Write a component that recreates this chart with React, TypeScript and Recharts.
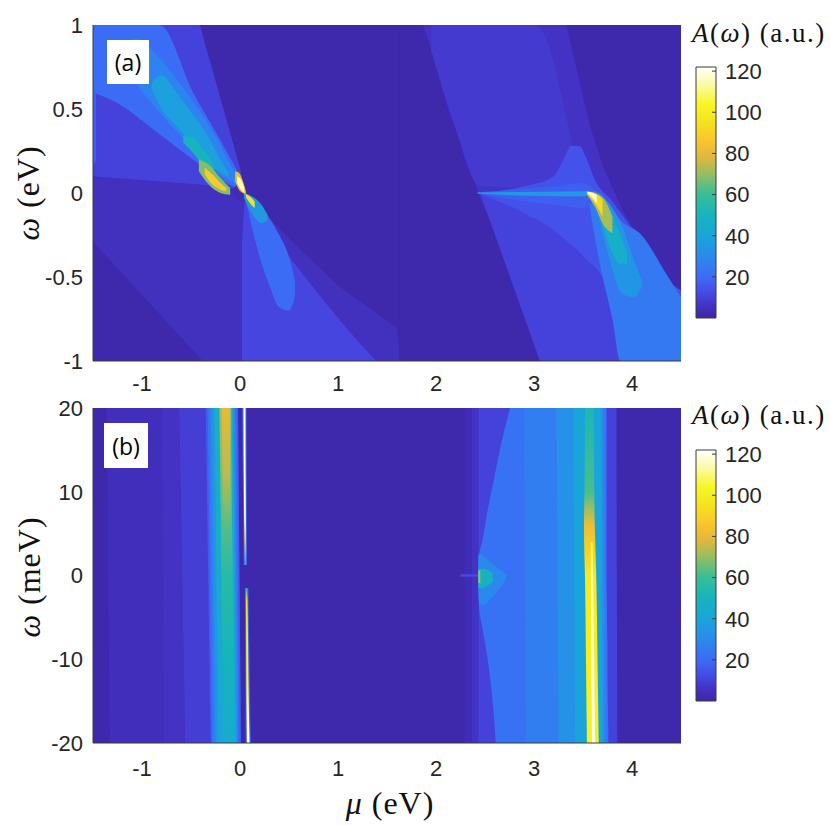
import React from 'react';
import { ComposedChart, Area, XAxis, YAxis, CartesianGrid, ReferenceArea, ReferenceLine } from 'recharts';

// axes
const muDomain: [number, number] = [-1.5, 4.5];
const muTicks = [-1, 0, 1, 2, 3, 4];
const omegaDomainA: [number, number] = [-1, 1];
const omegaTicksA = [-1, -0.5, 0, 0.5, 1];
const omegaDomainB: [number, number] = [-20, 20];
const omegaTicksB = [-20, -10, 0, 10, 20];
const cbTicks = [20, 40, 60, 80, 100, 120];
const cbMax = 122;
const bgLevel = 1;
const seamMu = 1.63;

// colour scale: parula with a white top, as in the figure
const cmap: [number, string][] = [
  [0, '#3D26A6'],
  [6, '#4332C4'],
  [12, '#4649E6'],
  [20, '#3B6CF6'],
  [30, '#2A8AEC'],
  [40, '#19A5DA'],
  [50, '#16B4BC'],
  [60, '#36BE98'],
  [70, '#95BE62'],
  [78, '#E0B73C'],
  [86, '#F9C52E'],
  [95, '#F5E21E'],
  [104, '#F8F624'],
  [112, '#FAFA96'],
  [122, '#FFFFFF'],
];

// a patch = level + outline points [key, lo, hi, level?]
// panel (a): key = mu (eV), lo/hi = omega (eV)
type Pt = [number, number, number, number?];
type Patch = { v: number; pts: Pt[]; lin?: boolean };

const aLowerSheet: Patch = { v: 5, lin: true, pts: [[-1.5, -0.29, 0.12], [-0.38, -1, 0.05], [0.05, -1, 0], [0.5, -1, -0.27], [1.0, -1, -0.55], [1.6, -1, -0.8], [1.64, -1, -1]] };
const aRightSheet: Patch = { v: 6, lin: true, pts: [[1.87, 1, 1], [2.15, 0.5, 1], [2.43, 0, 1], [2.8, -0.51, 1], [3.16, -1, 1], [3.33, -1, 1], [3.57, -1, 0.4], [3.71, -1, 0.15], [3.91, -1, -0.11], [4.25, -1, -0.43], [4.5, -1, -0.63]] };
const aUpperSheet: Patch = { v: 10, lin: true, pts: [[-1.5, 0.1, 1], [-0.41, 0.05, 1], [0.0, 0.02, 0.15], [0.05, 0, 0.01]] };
const aRightUpper: Patch = { v: 8, pts: [[1.95, 0.85, 1], [2.2, 0.38, 1], [2.45, 0.04, 1], [3.0, 0.03, 1], [3.1, 0.03, 0.95], [3.35, 0.05, 0.4], [3.45, 0.1, 0.12]] };
const aLowerRight: Patch = { v: 11, pts: [[0.02, -1, -0.3], [0.06, -1, -0.03], [0.4, -1, -0.3], [0.8, -1, -0.6], [1.2, -1, -0.88], [1.39, -1, -1]] };
const aRightLower: Patch = { v: 10, lin: true, pts: [[2.45, 0, 0], [3.06, -1, -0.05], [3.5, -1, -0.1], [3.9, -1, -0.5]] };
const aRightBump: Patch = { v: 14, pts: [[2.43, 0, 0], [2.9, -0.12, 0.04], [3.2, -0.22, 0.1], [3.3, -0.27, 0.2], [3.38, -0.31, 0.28], [3.46, -0.35, 0.28], [3.54, -0.4, 0.2], [3.62, -0.44, 0.08], [3.8, -0.6, -0.05], [4.1, -0.95, -0.3], [4.3, -1, -0.48], [4.5, -1, -0.58]] };
const aLeftEdge: Patch = { v: 18, lin: true, pts: [[-1.5, 0.15, 1], [-1.47, 0.2, 1]] };
const aUpperBlue: Patch = { v: 20, pts: [[-1.5, 0.6, 1], [-1.3, 0.55, 1], [-0.82, 0.35, 1], [-0.48, 0.2, 0.6], [-0.14, 0.06, 0.25], [0.0, 0.02, 0.09], [0.04, 0.01, 0.02]] };
const aLowerBlue: Patch = { v: 20, pts: [[0.06, -0.04, -0.01], [0.12, -0.2, -0.03], [0.2, -0.38, -0.07], [0.3, -0.55, -0.15], [0.4, -0.68, -0.25], [0.5, -0.7, -0.38], [0.56, -0.62, -0.52]] };
const aRightTail25: Patch = { v: 24, pts: [[3.55, -0.02, 0.02], [3.67, -0.42, 0.0], [3.8, -0.75, -0.1], [3.88, -1, -0.16], [4.08, -1, -0.24], [4.39, -1, -0.52], [4.5, -1, -0.62]] };
const aStreakGlow: Patch = { v: 17, pts: [[2.43, -0.005, 0.005], [2.8, -0.04, 0.02], [3.2, -0.07, 0.04], [3.5, -0.09, 0.06], [3.6, -0.05, 0.03]] };
const aUpper28: Patch = { v: 28, pts: [[-1.2, 0.82, 0.86], [-1.05, 0.65, 0.92], [-0.85, 0.5, 0.82], [-0.65, 0.37, 0.68], [-0.45, 0.24, 0.52], [-0.25, 0.13, 0.34], [-0.1, 0.07, 0.17], [0.0, 0.04, 0.08]] };
const aUpper38: Patch = { v: 38, pts: [[-0.9, 0.62, 0.66], [-0.8, 0.5, 0.7], [-0.65, 0.4, 0.6], [-0.5, 0.3, 0.48], [-0.35, 0.2, 0.36], [-0.2, 0.12, 0.2], [-0.12, 0.1, 0.12]] };
const aUpper50: Patch = { v: 50, pts: [[-0.58, 0.3, 0.34], [-0.48, 0.24, 0.33], [-0.38, 0.17, 0.26], [-0.3, 0.14, 0.2], [-0.26, 0.14, 0.16]] };
const aCrescent70: Patch = { v: 68, pts: [[-0.42, 0.13, 0.2], [-0.32, 0.05, 0.17], [-0.2, 0.0, 0.09], [-0.1, -0.01, 0.03]] };
const aCrescent90: Patch = { v: 88, pts: [[-0.36, 0.11, 0.15], [-0.28, 0.05, 0.11], [-0.2, 0.02, 0.06], [-0.14, 0.01, 0.03]] };
const aDarkNotch: Patch = { v: 3, pts: [[-0.07, 0.0, 0.02], [-0.02, -0.04, 0.05], [0.04, -0.05, 0.0], [0.05, -0.01, -0.01]] };
const aBelow35: Patch = { v: 35, pts: [[0.04, -0.03, 0.0], [0.12, -0.12, -0.02], [0.22, -0.18, -0.07], [0.28, -0.16, -0.13]] };
const aBelow90: Patch = { v: 95, pts: [[0.06, -0.025, -0.005], [0.1, -0.06, -0.02], [0.15, -0.09, -0.05]] };
const aFlame80: Patch = { v: 80, pts: [[-0.05, 0.07, 0.13], [-0.01, 0.02, 0.12], [0.03, 0.0, 0.07], [0.06, -0.01, 0.01]] };
const aFlame115: Patch = { v: 115, pts: [[-0.03, 0.06, 0.1], [0.01, 0.02, 0.08], [0.045, 0.0, 0.03]] };
const aStreak: Patch = { v: 35, pts: [[2.42, -0.003, 0.003], [2.7, -0.012, 0.006], [3.1, -0.018, 0.008], [3.5, -0.02, 0.01], [3.56, -0.01, 0.01]] };
const aRightTail35: Patch = { v: 34, pts: [[3.62, -0.05, 0.0], [3.75, -0.35, -0.05], [3.9, -0.6, -0.2], [4.02, -0.62, -0.4], [4.1, -0.56, -0.52]] };
const aRightTail45: Patch = { v: 46, pts: [[3.64, -0.06, -0.01], [3.76, -0.3, -0.08], [3.88, -0.42, -0.25], [3.95, -0.42, -0.36]] };
const aRight70: Patch = { v: 72, pts: [[3.54, -0.01, 0.01], [3.62, -0.08, 0.0], [3.72, -0.2, -0.04], [3.8, -0.24, -0.14]] };
const aRight90: Patch = { v: 92, pts: [[3.54, -0.005, 0.008], [3.62, -0.06, 0.0], [3.7, -0.14, -0.04]] };
const aRight115: Patch = { v: 118, pts: [[3.55, -0.003, 0.006], [3.6, -0.03, 0.0], [3.64, -0.06, -0.015]] };

const panelAPatches = [
  aLowerSheet, aRightSheet, aUpperSheet, aRightUpper, aLowerRight, aRightLower, aRightBump,
  aLeftEdge, aUpperBlue, aLowerBlue, aRightTail25, aStreakGlow, aUpper28, aUpper38, aUpper50,
  aCrescent70, aCrescent90, aDarkNotch, aBelow35, aBelow90, aFlame80, aFlame115,
  aStreak, aRightTail35, aRightTail45, aRight70, aRight90, aRight115,
];

// panel (b): key = omega (meV), lo/hi = mu (eV)
const bL1: Patch = { v: 4, pts: [[20, -1.36, -0.8], [-20, -1.33, -0.78]] };
const bL2: Patch = { v: 6, pts: [[20, -0.8, -0.62], [-20, -0.78, -0.56]] };
const bL3: Patch = { v: 9, pts: [[20, -0.62, -0.02], [-20, -0.56, 0.01]] };
const bL4: Patch = { v: 16, pts: [[20, -0.35, -0.02], [-20, -0.3, 0.01]] };
const bL4b: Patch = { v: 22, pts: [[20, -0.33, -0.035], [-20, -0.285, -0.005]] };
const bL5: Patch = { v: 28, pts: [[20, -0.31, -0.05], [-20, -0.265, -0.02]] };
const bL5b: Patch = { v: 34, pts: [[20, -0.29, -0.06], [-20, -0.245, -0.03]] };
const bL6: Patch = { v: 42, pts: [[20, -0.26, -0.075, 48], [-20, -0.22, -0.04, 40]] };
const bL7: Patch = { v: 60, pts: [[20, -0.21, -0.09, 72], [10, -0.2, -0.085, 66], [0, -0.19, -0.075, 56], [-10, -0.18, -0.065, 50], [-20, -0.17, -0.055, 44]] };
const bL8: Patch = { v: 76, pts: [[20, -0.185, -0.105, 80], [12, -0.178, -0.1, 74], [5, -0.17, -0.095, 62]] };
const bHaloTop: Patch = { v: 18, pts: [[20, 0.022, 0.066], [1.25, 0.038, 0.072]] };
const bLineTop: Patch = { v: 110, pts: [[20, 0.035, 0.056, 122], [7, 0.042, 0.06, 116], [4, 0.045, 0.062, 85], [1.25, 0.048, 0.062, 45]] };
const bHaloBottom: Patch = { v: 18, pts: [[-1.5, 0.05, 0.085], [-20, 0.058, 0.11]] };
const bLineBottom: Patch = { v: 110, pts: [[-1.5, 0.058, 0.074, 45], [-3, 0.06, 0.077, 95], [-12, 0.064, 0.086, 105], [-18, 0.068, 0.094, 118], [-20, 0.07, 0.098, 122]] };
const bR1: Patch = { v: 3, pts: [[20, 2.29, 2.365], [-20, 2.29, 2.365]] };
const bR2: Patch = { v: 6, pts: [[20, 2.365, 2.432], [-20, 2.365, 2.432]] };
const bR3: Patch = { v: 10, pts: [[20, 2.432, 3.84], [-20, 2.432, 3.85]] };
const bR4: Patch = { v: 22, pts: [[20, 2.755, 3.74], [16, 2.67, 3.74], [12, 2.6, 3.74], [8, 2.53, 3.74], [4, 2.47, 3.74], [2.5, 2.44, 3.74], [0, 2.432, 3.74], [-4, 2.44, 3.745], [-5.5, 2.46, 3.745], [-8, 2.5, 3.75], [-12, 2.55, 3.75], [-16, 2.585, 3.755], [-20, 2.61, 3.76]] };
const bR5: Patch = { v: 26, pts: [[20, 2.9, 3.72], [-20, 2.92, 3.74]] };
const bR6: Patch = { v: 33, pts: [[20, 3.23, 3.7], [-20, 3.25, 3.72]] };
const bR7: Patch = { v: 40, pts: [[20, 3.4, 3.68], [-20, 3.42, 3.7]] };
const bR8: Patch = { v: 90, pts: [[20, 3.52, 3.61, 52], [10, 3.515, 3.615, 62], [6, 3.51, 3.62, 82], [2, 3.515, 3.63, 92], [0, 3.52, 3.635, 98], [-10, 3.53, 3.648, 100], [-20, 3.54, 3.66, 102]] };
const bR9: Patch = { v: 115, pts: [[4, 3.578, 3.598, 104], [0, 3.58, 3.604, 112], [-10, 3.586, 3.614, 120], [-20, 3.592, 3.622, 122]] };
const bGlowLine: Patch = { v: 12, pts: [[0.15, 2.25, 2.43], [-0.15, 2.25, 2.43]] };
const bGlow1: Patch = { v: 30, pts: [[2.5, 2.432, 2.46], [1, 2.432, 2.62], [0, 2.432, 2.72], [-1.5, 2.432, 2.65], [-3.5, 2.44, 2.5]] };
const bGlow2: Patch = { v: 48, pts: [[0.8, 2.432, 2.5], [0.2, 2.432, 2.58], [-0.6, 2.432, 2.58], [-1.5, 2.432, 2.48]] };
const bGlow3: Patch = { v: 72, pts: [[0.6, 2.432, 2.452], [-0.9, 2.432, 2.452]] };

const panelBPatches = [
  bL1, bL2, bL3, bL4, bL4b, bL5, bL5b, bL6, bL7, bL8, bHaloTop, bLineTop, bHaloBottom, bLineBottom,
  bR1, bR2, bR3, bR4, bR5, bR6, bR7, bR8, bR9, bGlowLine, bGlow1, bGlow2, bGlow3,
];

const serif = '"Liberation Serif", "Times New Roman", serif';
const sans = '"Liberation Sans", Arial, Helvetica, sans-serif';
const frame = '#3a3a3a';
const textColor = '#262626';

function hexToRgb(h: string) {
  const n = parseInt(h.slice(1), 16);
  return [(n >> 16) & 255, (n >> 8) & 255, n & 255];
}

function colorAt(v: number) {
  const x = Math.max(0, Math.min(cbMax, v));
  for (let i = 1; i < cmap.length; i++) {
    if (x <= cmap[i][0]) {
      const [v0, c0] = cmap[i - 1];
      const [v1, c1] = cmap[i];
      const t = (x - v0) / (v1 - v0);
      const a = hexToRgb(c0);
      const b = hexToRgb(c1);
      const c = a.map((q, k) => Math.round(q + (b[k] - q) * t));
      return `rgb(${c[0]},${c[1]},${c[2]})`;
    }
  }
  return cmap[cmap.length - 1][1];
}

function buildPatches(patches: Patch[], vertical: boolean, prefix: string) {
  const defs: React.ReactNode[] = [];
  const areas: React.ReactNode[] = [];
  patches.forEach((p, idx) => {
    const key = vertical ? 'w' : 'mu';
    const data = p.pts.map(([k, lo, hi]) => ({ [key]: k, r: [lo, hi] }));
    let fill = colorAt(p.v);
    if (p.pts.some((q) => q[3] !== undefined)) {
      const ks = p.pts.map((q) => q[0]);
      const kMin = Math.min(...ks);
      const kMax = Math.max(...ks);
      const id = `${prefix}-grad-${idx}`;
      defs.push(
        <linearGradient key={id} id={id} x1="0" y1="0" x2={vertical ? '0' : '1'} y2={vertical ? '1' : '0'}>
          {p.pts.map((q, i) => (
            <stop
              key={i}
              offset={vertical ? (kMax - q[0]) / (kMax - kMin) : (q[0] - kMin) / (kMax - kMin)}
              stopColor={colorAt(q[3] ?? p.v)}
            />
          ))}
        </linearGradient>
      );
      fill = `url(#${id})`;
    }
    areas.push(
      <Area
        key={`${prefix}-${idx}`}
        data={data}
        dataKey="r"
        type={p.lin ? 'linear' : 'monotone'}
        stroke="none"
        fill={fill}
        fillOpacity={1}
        dot={false}
        activeDot={false}
        isAnimationActive={false}
      />
    );
  });
  return { defs, areas };
}

function ColorbarTick(props: any) {
  const { x, y, payload } = props;
  return (
    <g>
      <line x1={x - 13} x2={x - 9} y1={y} y2={y} stroke={frame} strokeWidth={1} />
      <text x={x} y={y} dy="0.36em" textAnchor="start" fontSize={22} fontFamily={sans} fill={textColor}>
        {payload.value}
      </text>
    </g>
  );
}

function Colorbar({ id, top }: { id: string; top: number }) {
  return (
    <div style={{ position: 'absolute', left: 690, top }}>
      <ComposedChart width={140} height={300} margin={{ top: 27, right: 0, bottom: 22, left: 6 }}>
        <defs>
          <linearGradient id={id} x1="0" y1="1" x2="0" y2="0">
            {cmap.map(([v, c]) => (
              <stop key={v} offset={v / cbMax} stopColor={c} />
            ))}
          </linearGradient>
        </defs>
        <XAxis type="number" dataKey="x" domain={[0, 1]} allowDataOverflow hide />
        <YAxis
          type="number"
          orientation="right"
          domain={[0, cbMax]}
          allowDataOverflow
          ticks={cbTicks}
          interval={0}
          width={114}
          axisLine={false}
          tickLine={false}
          tickSize={0}
          tickMargin={9}
          tick={<ColorbarTick />}
        />
        <ReferenceArea x1={0} x2={1} y1={0} y2={cbMax} fill={`url(#${id})`} fillOpacity={1} stroke={frame} strokeWidth={1} ifOverflow="visible" />
      </ComposedChart>
    </div>
  );
}

function PanelA() {
  const { defs, areas } = buildPatches(panelAPatches, false, 'a');
  const tickStyle = { fontSize: 22, fill: textColor, fontFamily: sans };
  return (
    <div style={{ position: 'absolute', left: 0, top: 0 }}>
      <ComposedChart width={700} height={400} margin={{ top: 25, right: 19, left: 0, bottom: 0 }}>
        <defs>{defs}</defs>
        <CartesianGrid fill={colorAt(bgLevel)} fillOpacity={1} stroke="none" horizontal={false} vertical={false} />
        {areas}
        <ReferenceLine x={seamMu} stroke="#3a2aa0" strokeWidth={1} ifOverflow="hidden" />
        <XAxis
          type="number"
          dataKey="mu"
          domain={muDomain}
          allowDataOverflow
          ticks={muTicks}
          interval={0}
          height={39}
          tickLine={false}
          tickMargin={8}
          axisLine={{ stroke: frame }}
          tick={tickStyle}
        />
        <XAxis xAxisId="top" type="number" orientation="top" domain={muDomain} allowDataOverflow height={0} tick={false} tickLine={false} axisLine={{ stroke: frame }} />
        <YAxis
          type="number"
          domain={omegaDomainA}
          allowDataOverflow
          ticks={omegaTicksA}
          interval={0}
          width={93}
          tickLine={false}
          tickMargin={4}
          axisLine={{ stroke: frame }}
          tick={tickStyle}
        />
        <YAxis yAxisId="right" type="number" orientation="right" domain={omegaDomainA} allowDataOverflow width={0} tick={false} tickLine={false} axisLine={{ stroke: frame }} />
      </ComposedChart>
    </div>
  );
}

function PanelB() {
  const { defs, areas } = buildPatches(panelBPatches, true, 'b');
  const tickStyle = { fontSize: 22, fill: textColor, fontFamily: sans };
  return (
    <div style={{ position: 'absolute', left: 0, top: 383 }}>
      <ComposedChart layout="vertical" width={700} height={400} margin={{ top: 25, right: 19, left: 0, bottom: 0 }}>
        <defs>{defs}</defs>
        <CartesianGrid fill={colorAt(bgLevel)} fillOpacity={1} stroke="none" horizontal={false} vertical={false} />
        {areas}
        <XAxis
          type="number"
          domain={muDomain}
          allowDataOverflow
          ticks={muTicks}
          interval={0}
          height={40}
          tickLine={false}
          tickMargin={11}
          axisLine={{ stroke: frame }}
          tick={tickStyle}
        />
        <XAxis xAxisId="top" type="number" orientation="top" domain={muDomain} allowDataOverflow height={0} tick={false} tickLine={false} axisLine={{ stroke: frame }} />
        <YAxis
          type="number"
          dataKey="w"
          domain={omegaDomainB}
          allowDataOverflow
          reversed
          ticks={omegaTicksB}
          interval={0}
          width={93}
          tickLine={false}
          tickMargin={4}
          axisLine={{ stroke: frame }}
          tick={tickStyle}
        />
        <YAxis yAxisId="right" type="number" orientation="right" domain={omegaDomainB} allowDataOverflow reversed width={0} tick={false} tickLine={false} axisLine={{ stroke: frame }} />
      </ComposedChart>
    </div>
  );
}

const titleStyle: React.CSSProperties = {
  position: 'absolute',
  left: 692,
  transform: 'translateY(-50%)',
  fontFamily: serif,
  fontSize: 27,
  letterSpacing: 1.5,
  whiteSpace: 'nowrap',
  color: '#111',
};

const axisLabelStyle: React.CSSProperties = {
  position: 'absolute',
  fontFamily: serif,
  fontSize: 32,
  letterSpacing: 1,
  whiteSpace: 'nowrap',
  color: '#111',
  lineHeight: 1,
};

const panelTagStyle: React.CSSProperties = {
  position: 'absolute',
  background: '#fff',
  fontFamily: '"Open Sans", "Noto Sans", sans-serif',
  fontSize: 23,
  color: '#000',
  display: 'flex',
  alignItems: 'center',
  justifyContent: 'center',
};

export default function App() {
  return (
    <div style={{ position: 'absolute', left: 0, top: 0, width: 830, height: 825, background: '#fff', overflow: 'hidden' }}>
      <PanelA />
      <PanelB />
      <Colorbar id="cb-a" top={40} />
      <Colorbar id="cb-b" top={423} />

      <div style={{ ...panelTagStyle, left: 107, top: 40, width: 42, height: 44 }}>(a)</div>
      <div style={{ ...panelTagStyle, left: 104, top: 423, width: 44, height: 45 }}>(b)</div>

      <div style={{ ...titleStyle, top: 33 }}>
        <i>A</i>(<i>ω</i>) (a.u.)
      </div>
      <div style={{ ...titleStyle, top: 415 }}>
        <i>A</i>(<i>ω</i>) (a.u.)
      </div>

      <div style={{ ...axisLabelStyle, left: 28, top: 193, transform: 'translate(-50%, -50%) rotate(-90deg)' }}>
        <i>ω</i> (eV)
      </div>
      <div style={{ ...axisLabelStyle, left: 29, top: 577, transform: 'translate(-50%, -50%) rotate(-90deg)' }}>
        <i>ω</i> (meV)
      </div>
      <div style={{ ...axisLabelStyle, left: 390, top: 803, transform: 'translate(-50%, -50%)' }}>
        <i>μ</i> (eV)
      </div>
    </div>
  );
}
